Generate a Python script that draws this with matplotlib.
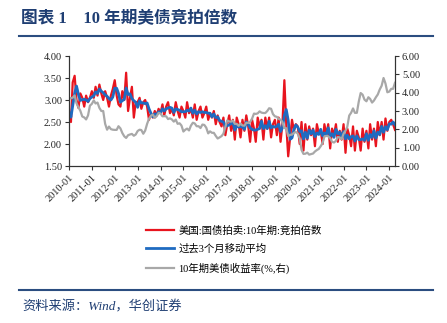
import numpy as np
import pandas as pd
import matplotlib
matplotlib.use('Agg')
import matplotlib.pyplot as plt
import matplotlib.dates as mdates
from matplotlib.lines import Line2D

# 10Y Treasury auction bid-to-cover ratio, monthly, 2010-01 .. 2024-04
bid_cover = [
    2.72, 2.50, 3.40, 3.55, 3.00, 2.82, 3.15, 3.05, 2.85, 3.10, 2.95, 3.05,  # 2010
    3.20, 3.05, 3.30, 3.10, 3.35, 3.15, 3.00, 3.20, 3.05, 2.85, 3.10, 3.25,  # 2011
    3.45, 3.10, 2.90, 2.85, 3.20, 3.00, 3.62, 2.75, 3.05, 3.30, 2.60, 2.95,  # 2012
    2.95, 3.05, 2.80, 2.95, 3.00, 2.85, 2.55, 2.70, 2.60, 2.75, 2.65, 2.80,  # 2013
    2.70, 2.90, 2.65, 2.85, 2.95, 2.70, 2.80, 2.65, 2.95, 2.75, 2.60, 2.85,  # 2014
    2.75, 2.60, 2.95, 2.70, 2.80, 2.60, 2.90, 2.55, 2.75, 2.85, 2.60, 2.70,  # 2015
    2.85, 2.55, 2.70, 2.60, 2.75, 2.45, 2.65, 2.50, 2.40, 2.60, 2.20, 2.45,  # 2016
    2.65, 2.30, 2.55, 2.10, 2.60, 2.45, 2.15, 2.55, 2.30, 2.65, 2.40, 2.05,  # 2017
    2.55, 2.35, 2.05, 2.60, 2.40, 2.55, 2.10, 2.60, 2.35, 2.60, 2.15, 2.45,  # 2018
    2.55, 2.20, 2.60, 2.05, 2.45, 3.45, 2.45, 1.72, 2.15, 2.55, 2.30, 2.45,  # 2019
    2.40, 2.00, 2.50, 1.85, 2.45, 2.10, 2.40, 2.20, 2.35, 1.95, 2.45, 2.25,  # 2020
    2.30, 2.00, 2.45, 2.20, 2.45, 1.90, 2.35, 2.20, 2.45, 2.05, 2.30, 2.10,  # 2021
    2.45, 1.80, 2.35, 2.20, 1.95, 2.40, 1.85, 2.30, 2.15, 1.85, 2.35, 2.05,  # 2022
    2.30, 1.90, 2.45, 2.10, 2.35, 1.95, 2.50, 2.20, 2.50, 2.10, 2.58, 2.30,  # 2023
    2.50, 2.55, 2.45, 2.32,                                                  # 2024
]

# 10Y Treasury yield (%), monthly average, right axis
yield10 = [
    3.73, 3.69, 3.73, 3.85, 3.42, 3.20, 3.01, 2.70, 2.65, 2.54, 2.76, 3.29,
    3.39, 3.58, 3.41, 3.46, 3.17, 3.00, 3.00, 2.30, 1.98, 2.15, 2.01, 1.98,
    1.97, 1.97, 2.17, 2.05, 1.80, 1.62, 1.53, 1.68, 1.72, 1.75, 1.65, 1.72,
    1.91, 1.98, 1.96, 1.76, 1.93, 2.30, 2.58, 2.74, 2.81, 2.62, 2.72, 2.90,
    2.86, 2.71, 2.72, 2.71, 2.56, 2.60, 2.54, 2.42, 2.53, 2.30, 2.33, 2.21,
    1.88, 1.98, 2.04, 1.94, 2.20, 2.36, 2.32, 2.17, 2.17, 2.07, 2.26, 2.24,
    2.09, 1.78, 1.89, 1.81, 1.81, 1.64, 1.50, 1.56, 1.63, 1.76, 2.14, 2.49,
    2.43, 2.42, 2.48, 2.30, 2.30, 2.19, 2.32, 2.21, 2.20, 2.36, 2.35, 2.40,
    2.58, 2.86, 2.84, 2.87, 2.98, 2.91, 2.89, 2.89, 3.00, 3.15, 3.12, 2.83,
    2.71, 2.68, 2.57, 2.53, 2.40, 2.07, 2.06, 1.63, 1.70, 1.71, 1.81, 1.86,
    1.76, 1.50, 0.87, 0.66, 0.67, 0.73, 0.62, 0.65, 0.68, 0.79, 0.87, 0.93,
    1.08, 1.26, 1.61, 1.64, 1.62, 1.52, 1.32, 1.28, 1.37, 1.58, 1.56, 1.47,
    1.76, 1.93, 2.13, 2.75, 2.90, 3.14, 2.90, 2.90, 3.52, 3.98, 3.89, 3.62,
    3.53, 3.75, 3.66, 3.46, 3.57, 3.75, 3.90, 4.17, 4.38, 4.80, 4.50, 4.02,
    4.06, 4.21, 4.21, 4.54,
]

year_ticks = list(range(2010, 2025))
left_ticks = [1.50, 2.00, 2.50, 3.00, 3.50, 4.00]
right_ticks = [0, 1, 2, 3, 4, 5, 6]
labels = ['美国:国债拍卖:10年期:竞拍倍数', '过去3个月移动平均', '10年期美债收益率(%,右)']

red = '#E8141E'
blue = '#1F6BC1'
grey = '#A8A8A8'
navy = '#1F3E73'

plt.rcParams['font.family'] = ['Liberation Serif', 'Noto Sans CJK SC']
plt.rcParams['font.size'] = 7.5
plt.rcParams['axes.unicode_minus'] = False

dates = pd.date_range('2010-01-01', periods=len(bid_cover), freq='MS')
ma3 = pd.Series(bid_cover).rolling(3, min_periods=1).mean()

W, H = 447, 323
fig = plt.figure(figsize=(W / 100, H / 100), dpi=100)
ax = fig.add_axes([69 / W, 1 - 166 / H, 326 / W, 110 / H])

l1 = ax.plot(dates, bid_cover, color=red, lw=1.6)
l2 = ax.plot(dates, ma3, color=blue, lw=2.0)
ax2 = ax.twinx()
l3 = ax2.plot(dates, yield10, color=grey, lw=1.6)

ax.set_ylim(1.5, 4.0)
ax.set_yticks(left_ticks)
ax.set_yticklabels([f'{v:.2f}' for v in left_ticks])
ax2.set_ylim(0, 6)
ax2.set_yticks(right_ticks)
ax2.set_yticklabels([f'{v:.2f}' for v in right_ticks])

ax.set_xlim(pd.Timestamp('2010-01-01'), pd.Timestamp('2024-04-01'))
ax.set_xticks([pd.Timestamp(f'{y}-01-01') for y in year_ticks])
ax.xaxis.set_major_formatter(mdates.DateFormatter('%Y-%m'))
for lab in ax.get_xticklabels():
    lab.set_rotation(45)
    lab.set_ha('right')
    lab.set_rotation_mode('anchor')

for a in (ax, ax2):
    a.spines['top'].set_visible(False)
    for s in a.spines.values():
        s.set_linewidth(0.8)
        s.set_color('#333333')
    a.tick_params(direction='out', length=3, width=0.8, colors='#333333', labelcolor='#222222', pad=2)

lines = l1 + l2 + l3
fig.legend(lines, labels, loc='upper left', bbox_to_anchor=(141 / W, 1 - 220 / H),
           frameon=False, borderpad=0, handlelength=2.7, handletextpad=0.4,
           labelspacing=0.8, fontsize=7.5)

# title, rules and source line
fig.text(21 / W, 1 - 19 / H, '图表 1　10 年期美债竞拍倍数', fontsize=12, fontweight='bold',
         color=navy, va='center')
fig.add_artist(Line2D([19 / W, 433 / W], [1 - 36 / H] * 2, color='#2B4D80', lw=1.5))
fig.add_artist(Line2D([19 / W, 433 / W], [1 - 290 / H] * 2, color='#2B4D80', lw=1.5))
fig.text(22 / W, 1 - 307 / H, '资料来源：Wind，华创证券', fontsize=9.5, style='italic',
         color=navy, va='center')

fig.savefig('out.png', dpi=100)
